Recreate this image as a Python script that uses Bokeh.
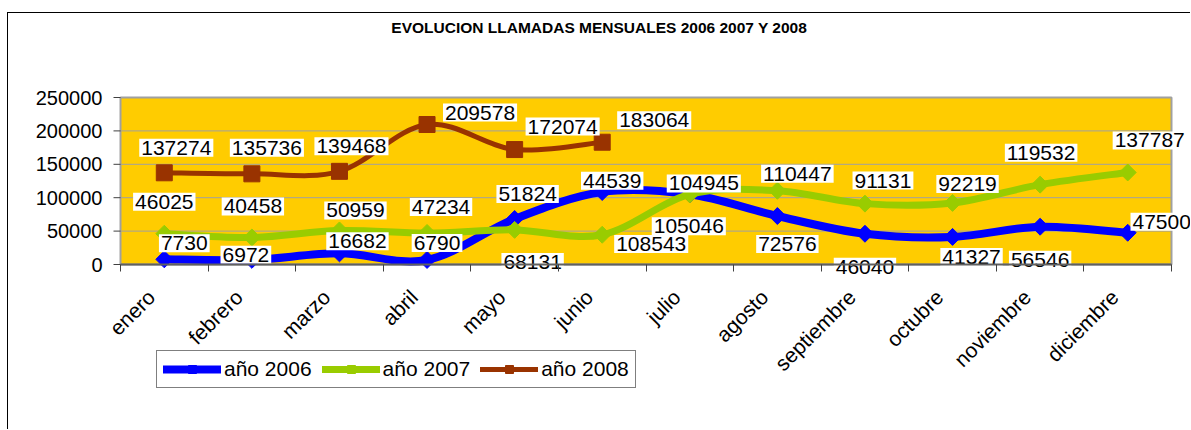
import numpy as np
from bokeh.plotting import figure
from bokeh.models import (Range1d, FixedTicker, ColumnDataSource, Legend, LegendItem,
                          BasicTickFormatter)
from bokeh.core.properties import value
from bokeh.embed import file_html
from bokeh.resources import INLINE

# ---------------- data ----------------
months = ["enero", "febrero", "marzo", "abril", "mayo", "junio", "julio",
          "agosto", "septiembre", "octubre", "noviembre", "diciembre"]
v2006 = [7730, 6972, 16682, 6790, 68131, 108543, 105046, 72576, 46040, 41327, 56546, 47500]
v2007 = [46025, 40458, 50959, 47234, 51824, 44539, 104945, 110447, 91131, 92219, 119532, 137787]
v2008 = [137274, 135736, 139468, 209578, 172074, 183064]
series_names = ["año 2006", "año 2007", "año 2008"]
y_ticks = [0, 50000, 100000, 150000, 200000, 250000]
title_text = "EVOLUCION LLAMADAS MENSUALES 2006  2007 Y 2008"

# ---------------- label placement (screen px: dx right, dy down) ----------------
dx06 = [20, -6, 18, 10, 18, 49, -1, 10, 0, 19, 0, 34]
dy06 = [-16, -5, -12, -17, 43, 52, 32, 28, 33, 20, 33, -11]
dx07 = [0, 1, 16, 14, 13, 10, 14, 20, 18, 15, 1, 22]
dy07 = [-32, -31, -20, -26, -36, -54, -11, -17, -23, -19, -32, -32]
dx08 = [12, 15, 12, 53, 48, 52]
dy08 = [-25, -26, -25, -12, -23, -22]

FONT = "Liberation Sans"
# the figure sits 8px right / 13px down of the page corner (margin + chart-area border)
OX, OY = 8, 13
W, H = 1191 - OX, 430 - OY
FRAME_LEFT_PAGE = 104  # page x where the drawing frame begins
AREA_LEFT_PAGE = 120   # page x of the left edge of the gold plotting area
LEFT, RIGHT, TOP, BOTTOM = FRAME_LEFT_PAGE - OX, 0, 0, 20
N = len(months)
YMAX = y_ticks[-1]
AREA_TOP = 97 - OY     # canvas y of the top of the gold plotting area
PLOT_W = 1051          # width of the gold plotting area (px)
PLOT_H = 167           # height of the gold plotting area (px)
XU = PLOT_W / N        # px per x unit
YU = PLOT_H / YMAX     # px per y unit
FW = W - LEFT - RIGHT
FH = H - TOP - BOTTOM
X0 = -(AREA_LEFT_PAGE - FRAME_LEFT_PAGE) / XU


def y_at(page_y):
    return YMAX - (page_y - OY - AREA_TOP) / YU


def x_at(page_x):
    return (page_x - AREA_LEFT_PAGE) / XU


p = figure(width=W, height=H,
           x_range=Range1d(X0, X0 + FW / XU),
           y_range=Range1d(y_at(OY + FH), y_at(OY)),
           output_backend="svg", toolbar_location=None,
           min_border_left=LEFT, min_border_right=RIGHT,
           min_border_top=TOP, min_border_bottom=BOTTOM)
p.styles = {"margin-left": f"{OX - 1}px", "margin-top": f"{OY - 1}px",
            "border-left": "1px solid black", "border-top": "1px solid black"}
p.title.visible = False
p.background_fill_color = "white"
p.border_fill_color = "white"
p.outline_line_color = None
p.xgrid.visible = False
p.ygrid.visible = False

# x axis: drawn along y = 0, small ticks on category boundaries
xa = p.xaxis[0]
xa.fixed_location = 0
xa.bounds = (0, N)
xa.ticker = FixedTicker(ticks=[], minor_ticks=list(range(N + 1)))
xa.major_tick_line_color = None
xa.major_tick_out = 0
xa.major_tick_in = 0
xa.major_label_standoff = 0
xa.minor_tick_line_color = "#404040"
xa.minor_tick_out = 7
xa.minor_tick_in = 0
xa.axis_line_color = "#606060"
xa.axis_line_width = 2

# y axis: supplies the tick labels; its rule is the plotting-area edge
ya = p.yaxis[0]
ya.ticker = FixedTicker(ticks=y_ticks)
ya.formatter = BasicTickFormatter(use_scientific=False)
ya.major_tick_out = 0
ya.major_tick_in = 0
ya.major_tick_line_color = None
ya.minor_tick_line_color = None
ya.axis_line_color = None
ya.major_label_standoff = 2
ya.major_label_text_font = FONT
ya.major_label_text_font_size = "20px"
ya.major_label_text_color = "black"

# gold plotting area + horizontal gridlines + y tick marks
p.quad(left=0, right=N, bottom=0, top=YMAX, fill_color="#FFCC00",
       line_color="#A0A0A0", line_width=2)
p.segment(x0=[0] * len(y_ticks), x1=[N] * len(y_ticks), y0=y_ticks, y1=y_ticks,
          line_color="#A0A0A0", line_width=1)
p.segment(x0=[x_at(113)] * len(y_ticks), x1=[0] * len(y_ticks), y0=y_ticks, y1=y_ticks,
          line_color="#404040", line_width=1)


def smooth_segments(vals):
    n = len(vals)
    xs = [i + 0.5 for i in range(n)]
    d = dict(x0=[], y0=[], x1=[], y1=[], cx0=[], cy0=[], cx1=[], cy1=[])
    for i in range(n - 1):
        a = max(i - 1, 0)
        b = min(i + 2, n - 1)
        d["x0"].append(xs[i]); d["y0"].append(vals[i])
        d["x1"].append(xs[i + 1]); d["y1"].append(vals[i + 1])
        d["cx0"].append(xs[i] + (xs[i + 1] - xs[a]) / 6)
        d["cy0"].append(vals[i] + (vals[i + 1] - vals[a]) / 6)
        d["cx1"].append(xs[i + 1] - (xs[b] - xs[i]) / 6)
        d["cy1"].append(vals[i + 1] - (vals[b] - vals[i]) / 6)
    return ColumnDataSource(d)


series = [
    (v2006, "#0000FF", 8, dict(marker="square", angle=np.pi / 4, size=12), dx06, dy06, True),
    (v2007, "#99CC00", 7, dict(marker="square", angle=np.pi / 4, size=12), dx07, dy07, False),
    (v2008, "#993300", 5, dict(marker="square", angle=0, size=16), dx08, dy08, False),
]

items = []
label_sources = []
for (vals, col, lw, mk, dxs, dys, rev), name in zip(series, series_names):
    br = p.bezier(x0="x0", y0="y0", x1="x1", y1="y1", cx0="cx0", cy0="cy0",
                  cx1="cx1", cy1="cy1", source=smooth_segments(vals),
                  line_color=col, line_width=lw, line_cap="round")
    xs = [i + 0.5 for i in range(len(vals))]
    sr = p.scatter(x=xs, y=vals, fill_color=col, line_color=col, **mk)
    items.append(LegendItem(label=name, renderers=[br, sr]))
    idx = list(range(len(vals)))
    if rev:
        idx = idx[::-1]
    label_sources.append(ColumnDataSource(dict(
        x=[xs[i] for i in idx], y=[vals[i] for i in idx],
        t=[str(vals[i]) for i in idx],
        xo=[dxs[i] for i in idx], yo=[dys[i] for i in idx])))

for src in label_sources:
    p.text(x="x", y="y", text="t", x_offset="xo", y_offset="yo", source=src,
           text_align="center", text_baseline="middle",
           text_font=value(FONT), text_font_size="21px", text_color="black",
           background_fill_color="white", padding=2)

# month names under the category axis
p.text(x=[i + 0.5 for i in range(N)], y=[0] * N, text=months,
       x_offset=-13, y_offset=29, angle=np.pi / 4,
       text_align="right", text_baseline="middle",
       text_font=value(FONT), text_font_size="21px", text_color="black")

# chart title
p.text(x=[x_at(601)], y=[y_at(27)], text=[title_text],
       text_align="center", text_baseline="middle",
       text_font=value(FONT), text_font_size="15.5px", text_font_style="bold",
       text_color="black")

legend = Legend(items=items, orientation="horizontal",
                location=(156 - FRAME_LEFT_PAGE, FH - (388 - OY)),
                glyph_width=58, glyph_height=20, label_standoff=3, spacing=10,
                padding=6, margin=0, label_text_font=FONT, label_text_font_size="21px",
                label_text_color="black", border_line_color="black", border_line_width=1,
                background_fill_color="white", background_fill_alpha=1.0)
p.add_layout(legend)

open("out.html", "w").write(file_html(p, INLINE))
